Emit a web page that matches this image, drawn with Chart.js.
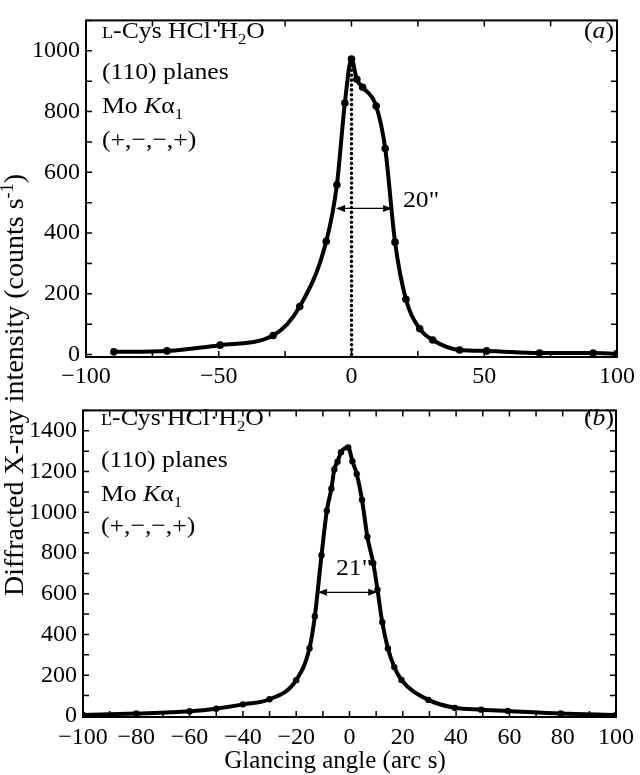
<!DOCTYPE html>
<html>
<head>
<meta charset="utf-8">
<script src="https://cdn.jsdelivr.net/npm/chart.js@4/dist/chart.umd.min.js"></script>
<style>
  body { margin: 0; background: #fff; }
  #fig { position: relative; width: 640px; height: 775px; overflow: hidden; font-family: "Liberation Serif", "Times New Roman", serif; color: #000; }
  canvas { position: absolute; left: 0; }
  .t { position: absolute; white-space: nowrap; font-size: 24px; line-height: 1; transform: scaleX(1.07); transform-origin: 0 0; }
  sub, sup { line-height: 0; font-size: 65%; }
  .sc { font-variant: small-caps; }
</style>
</head>
<body>
<div id="fig">
  <canvas id="chartA" width="640" height="390" style="top:0"></canvas>
  <canvas id="chartB" width="640" height="360" style="top:390px"></canvas>

  <div class="t" style="left:102px;top:18px"><span class="sc">l</span>-Cys HCl·H<sub>2</sub>O</div>
  <div class="t" style="left:102px;top:59px">(110) planes</div>
  <div class="t" style="left:102px;top:93px">Mo <i>K</i>α<sub>1</sub></div>
  <div class="t" style="left:102px;top:127px">(+,−,−,+)</div>
  <div class="t" style="left:584px;top:18px">(<i>a</i>)</div>
  <div class="t" style="left:403px;top:187px">20"</div>

  <div class="t" style="left:101px;top:405px"><span class="sc">l</span>-Cys HCl·H<sub>2</sub>O</div>
  <div class="t" style="left:101px;top:447px">(110) planes</div>
  <div class="t" style="left:101px;top:481px">Mo <i>K</i>α<sub>1</sub></div>
  <div class="t" style="left:101px;top:513px">(+,−,−,+)</div>
  <div class="t" style="left:584px;top:405px">(<i>b</i>)</div>
  <div class="t" style="left:336px;top:555px">21"</div>

  <div class="t" style="left:335px;top:747px;font-size:25px;transform:translateX(-50%)">Glancing angle (arc s)</div>
  <div class="t" style="left:14px;top:385px;font-size:28px;transform:translate(-50%,-50%) rotate(-90deg);transform-origin:50% 50%">Diffracted X-ray intensity (counts s<sup>-1</sup>)</div>
</div>

<script>
// panel (a) : rocking curve with asymmetric shoulder
const angleA = [-89.5, -69.5, -49.5, -29.5, -19.5, -9.5, -5.5, -2.5, 0, 2, 4.2, 9.3, 12.7, 16.4, 20.5, 25.7, 30.6, 40.7, 50.9, 70.8, 91, 100];
const countsA = [9, 12, 31, 63, 158, 373, 559, 828, 973, 906, 880, 818, 678, 370, 182, 85, 48, 15, 12, 5, 5, 3];
const dropX = [0, 0];
const dropY = [0, 968];
const fwhmXA = [-5.8, 15.3];
const fwhmYA = 481;
const xTicksA = [-100, -75, -50, -25, 0, 25, 50, 75, 100];
const xLabelsA = [-100, -50, 0, 50, 100];
const yTicksA = [0, 100, 200, 300, 400, 500, 600, 700, 800, 900, 1000, 1100];
const yLabelsA = [0, 200, 400, 600, 800, 1000];

// panel (b)
const angleB = [-100, -80, -60, -50, -40, -30, -20, -15, -13, -10.5, -8.5, -6.8, -5.7, -4.5, -3.2, -0.5, 1.1, 2.7, 4.7, 6.7, 8.9, 10.5, 12.3, 14.4, 16.8, 19.5, 29.6, 39.5, 49.4, 59.4, 79.2, 100];
const countsB = [5, 12, 23, 36, 57, 82, 176, 333, 490, 789, 1008, 1116, 1210, 1248, 1295, 1318, 1250, 1188, 1061, 880, 750, 620, 460, 332, 240, 177, 79, 40, 31, 25, 12, 5];
const fwhmXB = [-11.8, 10.4];
const fwhmYB = 607;
const xTicksB = [-100, -90, -80, -70, -60, -50, -40, -30, -20, -10, 0, 10, 20, 30, 40, 50, 60, 70, 80, 90, 100];
const xLabelsB = [-100, -80, -60, -40, -20, 0, 20, 40, 60, 80, 100];
const yTicksB = [0, 100, 200, 300, 400, 500, 600, 700, 800, 900, 1000, 1100, 1200, 1300, 1400, 1500];
const yLabelsB = [0, 200, 400, 600, 800, 1000, 1200, 1400];

const FONT = { family: '"Liberation Serif", "Times New Roman", serif', size: 24 };
const pts = (xs, ys) => xs.map((x, i) => ({ x, y: ys[i] }));
const minus = (v) => String(v).replace('-', '\u2212');

// frame box, inward ticks on all four sides, FWHM double arrow
const frameTicks = {
  id: 'frameTicks',
  afterDatasetsDraw(chart, args, opts) {
    const { ctx, chartArea: a, scales: { x, y } } = chart;
    ctx.save();
    ctx.strokeStyle = '#000';
    ctx.lineWidth = 1.5;
    ctx.beginPath();
    x.ticks.forEach((t) => {
      const px = x.getPixelForValue(t.value);
      ctx.moveTo(px, a.bottom); ctx.lineTo(px, a.bottom - 6);
      ctx.moveTo(px, a.top); ctx.lineTo(px, a.top + 6);
    });
    y.ticks.forEach((t) => {
      const py = y.getPixelForValue(t.value);
      ctx.moveTo(a.left, py); ctx.lineTo(a.left + 6, py);
      ctx.moveTo(a.right, py); ctx.lineTo(a.right - 6, py);
    });
    ctx.stroke();
    ctx.lineWidth = 2;
    ctx.strokeRect(a.left, a.top, a.right - a.left, a.bottom - a.top);

    if (opts.fwhm) {
      const x1 = x.getPixelForValue(opts.fwhm[0]);
      const x2 = x.getPixelForValue(opts.fwhm[1]);
      const yy = y.getPixelForValue(opts.level);
      ctx.fillStyle = '#000';
      ctx.lineWidth = 1.3;
      ctx.beginPath();
      ctx.moveTo(x1 + 2, yy); ctx.lineTo(x2 - 2, yy);
      ctx.stroke();
      ctx.beginPath();
      ctx.moveTo(x1, yy); ctx.lineTo(x1 + 9, yy - 3.5); ctx.lineTo(x1 + 9, yy + 3.5); ctx.closePath();
      ctx.moveTo(x2, yy); ctx.lineTo(x2 - 9, yy - 3.5); ctx.lineTo(x2 - 9, yy + 3.5); ctx.closePath();
      ctx.fill();
    }
    ctx.restore();
  },
};

function axes(cfg) {
  return {
    x: {
      type: 'linear', min: -100, max: 100,
      grid: { display: false, drawTicks: false, tickLength: 0 },
      border: { display: false },
      afterBuildTicks: (s) => { s.ticks = cfg.xTicks.map((value) => ({ value })); },
      ticks: {
        autoSkip: false, maxRotation: 0,
        padding: cfg.xPad, color: '#000', font: FONT,
        callback: (v) => (cfg.xLabels.includes(v) ? minus(v) : ''),
      },
      afterFit: (s) => { s.height = cfg.xHeight; },
    },
    y: {
      type: 'linear', min: cfg.yMin, max: cfg.yMax,
      grid: { display: false, drawTicks: false, tickLength: 0 },
      border: { display: false },
      afterBuildTicks: (s) => { s.ticks = cfg.yTicks.map((value) => ({ value })); },
      ticks: {
        autoSkip: false, padding: 6, color: '#000', font: FONT,
        callback: (v) => (cfg.yLabels.includes(v) ? minus(v) : ''),
      },
      afterFit: (s) => { s.width = cfg.yWidth; },
    },
  };
}

const curveStyle = (radius) => ({
  borderColor: '#000', borderWidth: 4, backgroundColor: '#000',
  pointRadius: radius, pointBorderWidth: 0, pointBackgroundColor: '#000',
  cubicInterpolationMode: 'monotone', showLine: true, fill: false,
});

new Chart(document.getElementById('chartA'), {
  type: 'scatter',
  data: {
    datasets: [
      { data: pts(dropX, dropY), borderColor: '#000', borderWidth: 3.5, borderDash: [0.1, 4.8], borderCapStyle: 'round', pointRadius: 0, showLine: true },
      { data: pts(angleA, countsA), ...curveStyle(3.8) },
    ],
  },
  options: {
    responsive: false, animation: false, events: [],
    layout: { padding: { top: 1, right: 17, left: 0, bottom: 0 } },
    plugins: { legend: { display: false }, tooltip: { enabled: false }, frameTicks: { fwhm: fwhmXA, level: fwhmYA } },
    scales: axes({ xTicks: xTicksA, xLabels: xLabelsA, xPad: 5, xHeight: 33, yTicks: yTicksA, yLabels: yLabelsA, yMin: -8, yMax: 1100, yWidth: 86 }),
  },
  plugins: [frameTicks],
});

new Chart(document.getElementById('chartB'), {
  type: 'scatter',
  data: {
    datasets: [
      { data: pts(angleB, countsB), ...curveStyle(3.2) },
    ],
  },
  options: {
    responsive: false, animation: false, events: [],
    layout: { padding: { top: 5, right: 19, left: 0, bottom: 0 } },
    plugins: { legend: { display: false }, tooltip: { enabled: false }, frameTicks: { fwhm: fwhmXB, level: fwhmYB } },
    scales: axes({ xTicks: xTicksB, xLabels: xLabelsB, xPad: 6, xHeight: 33, yTicks: yTicksB, yLabels: yLabelsB, yMin: -5, yMax: 1500, yWidth: 83 }),
  },
  plugins: [frameTicks],
});
</script>
</body>
</html>
